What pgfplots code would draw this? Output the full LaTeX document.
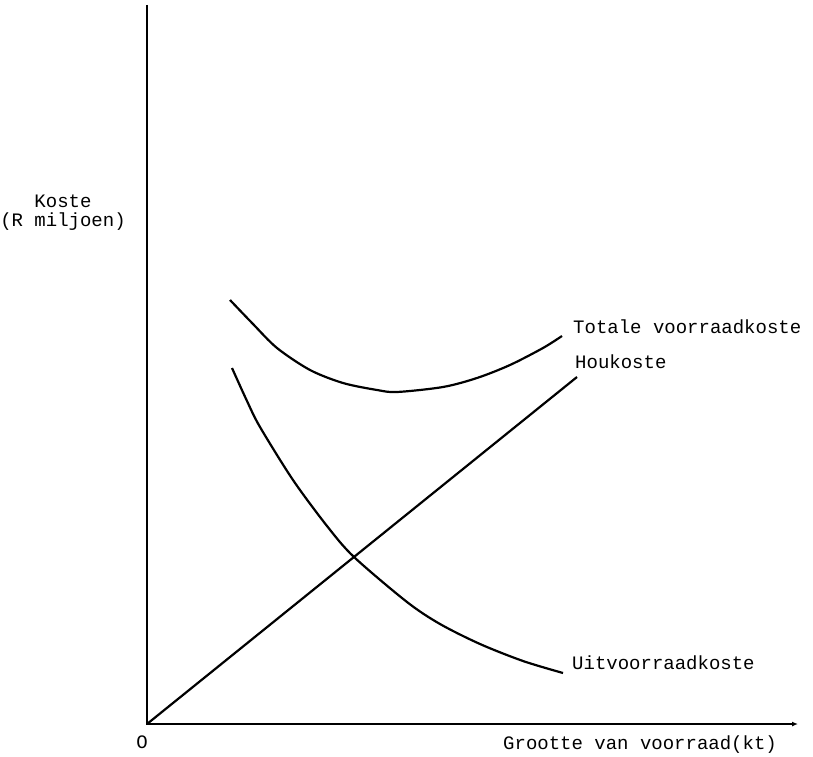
\documentclass[border=0pt]{standalone}
\usepackage{pgfplots}
\pgfplotsset{compat=1.18}
\usepackage{fontspec}
\setmainfont{Liberation Mono}
\usetikzlibrary{arrows.meta}

\begin{document}
\begin{tikzpicture}
\begin{axis}[
    x=1pt, y=1pt,
    xmin=0, xmax=651,
    ymin=0, ymax=719,
    hide axis,
    clip=false,
    curve/.style={black, line width=2.2pt, no marks},
]
% whole page, in pixel units of the reference
\path (axis cs:-147,-32) rectangle (axis cs:666,724);
% axes
\draw[line width=2.2pt, -{Latex[length=6pt,width=5pt]}]
    (axis cs:0,719) -- (axis cs:0,0) -- (axis cs:651,0);

% Houkoste
\addplot[curve] coordinates {(0,0) (430,347)};
% Totale voorraadkoste
\addplot[curve, smooth] coordinates {
    (83,424) (106,400) (130,376) (163,354) (196,341) (230,334)
    (250,332) (296,337) (330,346) (363,359) (396,376) (415,388)
};
% Uitvoorraadkoste
\addplot[curve, smooth] coordinates {
    (85,356) (100,323) (113,297) (146,244) (180,198) (207,167) (260,122)
    (293,100) (333,80) (376,63) (416,51)
};

\begin{scope}[every node/.style={font=\fontsize{19}{19}\selectfont, inner sep=0pt}]
\node[anchor=west] at (axis cs:426,397) {Totale voorraadkoste};
\node[anchor=west] at (axis cs:428,362) {Houkoste};
\node[anchor=west] at (axis cs:425,61) {Uitvoorraadkoste};
\node[align=center] at (axis cs:-84,511) {Koste\\(R miljoen)};
\node at (axis cs:-5,-18) {O};
\node[anchor=west] at (axis cs:356,-21) {Grootte van voorraad(kt)};
\end{scope}
\end{axis}
\end{tikzpicture}
\end{document}
